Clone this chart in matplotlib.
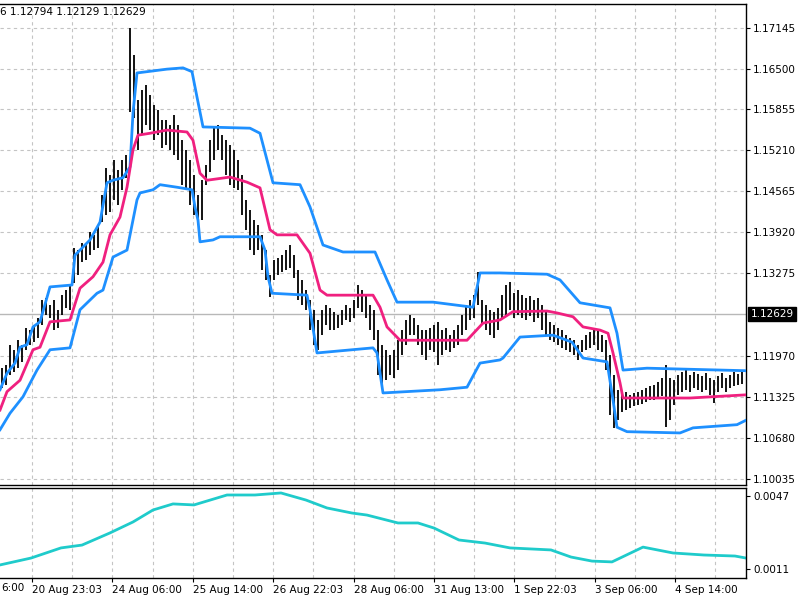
import matplotlib
matplotlib.use("Agg")
import matplotlib.pyplot as plt
from matplotlib.transforms import blended_transform_factory

# bar highs and lows, oldest first
highs = [
    1.1178, 1.1183, 1.1215, 1.1207, 1.1222, 1.1215, 1.1241, 1.1238, 1.1246, 1.1257,
    1.1285, 1.1289, 1.1278, 1.1285, 1.1270, 1.1293, 1.1301, 1.1309, 1.1367, 1.1364,
    1.1375, 1.1372, 1.1393, 1.1388, 1.1404, 1.1451, 1.1493, 1.1482, 1.1506, 1.1490,
    1.1506, 1.1514, 1.1714, 1.1671, 1.1600, 1.1616, 1.1624, 1.1608, 1.1593, 1.1585,
    1.1569, 1.1569, 1.1561, 1.1577, 1.1561, 1.1537, 1.1522, 1.1506, 1.1482, 1.1451,
    1.1474, 1.1498, 1.1537, 1.1556, 1.1561, 1.1545, 1.1537, 1.1530, 1.1522, 1.1506,
    1.1482, 1.1443, 1.1427, 1.1411, 1.1404, 1.1388, 1.1364, 1.1325, 1.1348, 1.1352,
    1.1356, 1.1364, 1.1372, 1.1356, 1.1333, 1.1317, 1.1301, 1.1285, 1.1270, 1.1254,
    1.1270, 1.1278, 1.1273, 1.1267, 1.1262, 1.1270, 1.1278, 1.1273, 1.1285, 1.1309,
    1.1301, 1.1293, 1.1278, 1.1270, 1.1238, 1.1215, 1.1207, 1.1199, 1.1207, 1.1222,
    1.1238, 1.1254, 1.1262, 1.1257, 1.1246, 1.1238, 1.1238, 1.1241, 1.1246, 1.1251,
    1.1238, 1.1241, 1.1230, 1.1238, 1.1246, 1.1262, 1.1278, 1.1285, 1.1293, 1.1330,
    1.1285, 1.1278, 1.1270, 1.1267, 1.1273, 1.1293, 1.1309, 1.1314, 1.1296, 1.1301,
    1.1293, 1.1289, 1.1292, 1.1285, 1.1289, 1.1278, 1.1270, 1.1251, 1.1246, 1.1241,
    1.1238, 1.1230, 1.1226, 1.1222, 1.1215, 1.1222, 1.1230, 1.1235, 1.1238, 1.1238,
    1.1230, 1.1222, 1.1199, 1.1167, 1.1144, 1.1136, 1.1141, 1.1136, 1.1139, 1.1141,
    1.1144, 1.1147, 1.1150, 1.1152, 1.1156, 1.1163, 1.1183, 1.1163, 1.1159, 1.1167,
    1.1172, 1.1175, 1.1167, 1.1172, 1.1169, 1.1166, 1.1170, 1.1163, 1.1159, 1.1166,
    1.1170, 1.1163, 1.1167, 1.1172, 1.1169, 1.1172,
]
lows = [
    1.1147, 1.1152, 1.1167, 1.1172, 1.1178, 1.1188, 1.1207, 1.1215, 1.1219, 1.1226,
    1.1246, 1.1262, 1.1257, 1.1238, 1.1241, 1.1262, 1.1273, 1.1270, 1.1312, 1.1325,
    1.1345, 1.1348, 1.1356, 1.1364, 1.1367, 1.1408, 1.1419, 1.1424, 1.1443, 1.1435,
    1.1459, 1.1478, 1.1582, 1.1572, 1.1522, 1.1545, 1.1561, 1.1553, 1.1537, 1.1545,
    1.1525, 1.1530, 1.1522, 1.1514, 1.1506, 1.1467, 1.1459, 1.1435, 1.1419, 1.1404,
    1.1411, 1.1467, 1.1487, 1.1506, 1.1522, 1.1506, 1.1482, 1.1467, 1.1462, 1.1459,
    1.1419, 1.1396, 1.1364, 1.1356, 1.1364, 1.1333, 1.1317, 1.1290, 1.1317, 1.1325,
    1.1330, 1.1333, 1.1336, 1.1320, 1.1285, 1.1278, 1.1270, 1.1238, 1.1215, 1.1207,
    1.1230, 1.1246, 1.1238, 1.1238, 1.1241, 1.1246, 1.1254, 1.1251, 1.1257, 1.1273,
    1.1267, 1.1257, 1.1238, 1.1222, 1.1167, 1.1152, 1.1159, 1.1167, 1.1163, 1.1175,
    1.1199, 1.1215, 1.1230, 1.1230, 1.1215, 1.1199, 1.1191, 1.1207, 1.1204, 1.1183,
    1.1199, 1.1207, 1.1204, 1.1210, 1.1215, 1.1230, 1.1238, 1.1254, 1.1257, 1.1278,
    1.1246, 1.1238, 1.1230, 1.1226, 1.1238, 1.1257, 1.1262, 1.1270, 1.1257, 1.1262,
    1.1257, 1.1254, 1.1260, 1.1251, 1.1257, 1.1238, 1.1230, 1.1222, 1.1219, 1.1215,
    1.1210, 1.1207, 1.1204, 1.1199, 1.1191, 1.1204, 1.1207, 1.1210, 1.1215, 1.1207,
    1.1204, 1.1175, 1.1104, 1.1084, 1.1096, 1.1109, 1.1112, 1.1115, 1.1118, 1.1120,
    1.1122, 1.1125, 1.1128, 1.1128, 1.1131, 1.1134, 1.1085, 1.1096, 1.1120, 1.1136,
    1.1141, 1.1144, 1.1141, 1.1147, 1.1144, 1.1141, 1.1144, 1.1136, 1.1123, 1.1141,
    1.1147, 1.1141, 1.1147, 1.1150, 1.1152, 1.1153,
]

# channel lines, sampled at bar positions
upper_x = [-0.5, 1.25, 3.25, 4.5, 6.25, 7.75, 9.5, 12, 17.5, 18.25, 19.5, 22, 24.5,
           26.25, 27.75, 30.25, 32, 32.75, 33.75, 41.25, 45.25, 47.5, 48.75, 50.25,
           62, 64.5, 67.75, 74.5, 77, 80.25, 85.25, 93.25, 96.25, 98.75, 107.75,
           117.75, 119.5, 124.5, 136.25, 139.5, 144.5, 152, 153.75, 155.25, 161.25, 186]
upper_y = [1.1144, 1.1170, 1.1186, 1.1211, 1.1215, 1.1243, 1.1251, 1.1306, 1.1309,
           1.1356, 1.1364, 1.1380, 1.1408, 1.1470, 1.1474, 1.1478, 1.1495, 1.1580,
           1.1643, 1.1649, 1.1651, 1.1645, 1.1605, 1.1558, 1.1556, 1.1548, 1.1470,
           1.1467, 1.1432, 1.1372, 1.1361, 1.1361, 1.1317, 1.1282, 1.1282, 1.1274,
           1.1328, 1.1328, 1.1326, 1.1317, 1.1281, 1.1273, 1.1233, 1.1175, 1.1178, 1.1174]

mid_x = [-0.5, 1.25, 4.5, 7.75, 9.5, 12, 17, 19.5, 22.75, 25.25, 27, 29.5, 31.25,
         32.75, 34, 37, 41.25, 46.25, 47.75, 49.5, 51.25, 57, 61.25, 64.5, 67,
         68.75, 73.75, 77, 79.5, 81.25, 92.75, 94.5, 96.25, 99.5, 116.25, 120.25,
         124.5, 127.75, 136.25, 138.75, 142.75, 145.25, 149.5, 151.5, 152.75,
         154.5, 155.25, 172, 186]
mid_y = [1.1112, 1.1141, 1.1159, 1.1207, 1.1211, 1.1251, 1.1254, 1.1304, 1.1322,
         1.1345, 1.1388, 1.1416, 1.1463, 1.1522, 1.1545, 1.1548, 1.1553, 1.1550,
         1.1537, 1.1485, 1.1474, 1.1479, 1.1471, 1.1462, 1.1396, 1.1388, 1.1388,
         1.1359, 1.1301, 1.1293, 1.1293, 1.1274, 1.1243, 1.1222, 1.1222, 1.1249,
         1.1254, 1.1267, 1.1268, 1.1265, 1.1259, 1.1243, 1.1238, 1.1233, 1.1202,
         1.1155, 1.1131, 1.1131, 1.1136]

lower_x = [-0.5, 2, 5.25, 8.75, 12, 17, 19.5, 23.75, 25.25, 27.75, 31.25, 33.75,
           34.5, 37.75, 39.5, 43.75, 47.5, 48.25, 49, 49.5, 52.75, 54.5, 64.5,
           65.75, 66.5, 67.5, 76.25, 77, 78.75, 92.75, 93.75, 95.25, 109.5, 116.25,
           119.5, 124.5, 125.25, 129.5, 137.75, 142.5, 145.25, 151.25, 152.75,
           153.75, 156.25, 169.5, 172.75, 183.75, 186]
lower_y = [1.1081, 1.1107, 1.1133, 1.1175, 1.1207, 1.1210, 1.1270, 1.1296, 1.1301,
           1.1353, 1.1364, 1.1443, 1.1454, 1.1459, 1.1467, 1.1463, 1.1459, 1.1432,
           1.1411, 1.1377, 1.1380, 1.1385, 1.1385, 1.1364, 1.1322, 1.1296, 1.1293,
           1.1270, 1.1202, 1.1210, 1.1202, 1.1139, 1.1144, 1.1148, 1.1186, 1.1191,
           1.1194, 1.1227, 1.1230, 1.1219, 1.1194, 1.1188, 1.1128, 1.1085, 1.1078,
           1.1076, 1.1084, 1.1089, 1.1096]

# sub window indicator
ind_x = [-0.5, 7.25, 14.75, 20, 27, 32.75, 37.75, 42.75, 48, 56.25, 63.25, 69.75,
         76, 81.25, 87.5, 91.25, 99, 104, 108, 114.25, 120.75, 127, 137.25,
         142.25, 147.5, 152.5, 160.25, 167.75, 175.5, 183.25, 186]
ind_y = [0.00130, 0.00164, 0.00214, 0.00228, 0.00288, 0.00342, 0.00401, 0.00431,
         0.00426, 0.00475, 0.00475, 0.00485, 0.00450, 0.00411, 0.00386, 0.00376,
         0.00337, 0.00337, 0.00312, 0.00253, 0.00238, 0.00214, 0.00204, 0.00169,
         0.00149, 0.00145, 0.00218, 0.00189, 0.00179, 0.00174, 0.00164]

price_ticks = [1.17145, 1.16500, 1.15855, 1.15210, 1.14565, 1.13920, 1.13275,
               1.11970, 1.11325, 1.10680, 1.10035]
last_price = 1.12629
ind_ticks = [0.0047, 0.0011]

time_labels = ["20 Aug 23:03", "24 Aug 06:00", "25 Aug 14:00", "26 Aug 22:03",
               "28 Aug 06:00", "31 Aug 13:00", "1 Sep 22:03", "3 Sep 06:00",
               "4 Sep 14:00"]
label_bars = [7.5, 27.6, 47.7, 67.8, 87.9, 108.0, 128.1, 148.2, 168.3]
grid_bars = [7.5, 17.55, 27.6, 37.65, 47.7, 57.75, 67.8, 77.85, 87.9, 97.95, 108.0,
             118.05, 128.1, 138.15, 148.2, 158.25, 168.3, 178.35]

FS = 7.5
grid_kw = dict(color="#c4c4c4", lw=0.8, ls=(0, (3, 3)), zorder=0)

fig = plt.figure(figsize=(8, 6), dpi=100)
ax = fig.add_axes([0, 115 / 600, 746 / 800, 481 / 600])
sub = fig.add_axes([0, 22 / 600, 746 / 800, 90 / 600])

# price window
for x in grid_bars:
    ax.axvline(x, **grid_kw)
for p in price_ticks:
    ax.axhline(p, **grid_kw)
ax.axhline(last_price, color="#b8b8b8", lw=1, zorder=1)

xs = list(range(len(highs)))
ax.vlines(xs, lows, highs, color="black", lw=1.3, zorder=2)
ax.plot(upper_x, upper_y, color="#1e90ff", lw=2, zorder=3)
ax.plot(lower_x, lower_y, color="#1e90ff", lw=2, zorder=3)
ax.plot(mid_x, mid_y, color="#f0207f", lw=2, zorder=3)

ax.set_xlim(-0.5, 186)
ax.set_ylim(1.09940, 1.17516)
ax.set_xticks([])
ax.yaxis.tick_right()
ax.set_yticks(price_ticks)
ax.set_yticklabels([f"{p:.5f}" for p in price_ticks])
ax.tick_params(axis="y", length=3, pad=2, labelsize=FS, direction="out")

trans = blended_transform_factory(ax.transAxes, ax.transData)
ax.text(1.006, last_price, f"{last_price:.5f}", transform=trans, ha="left",
        va="center", color="white", fontsize=FS,
        bbox=dict(boxstyle="square,pad=0.2", fc="black", ec="black"))

# indicator window
for x in grid_bars:
    sub.axvline(x, **grid_kw)
sub.plot(ind_x, ind_y, color="#1fcbcb", lw=2)
sub.set_xlim(-0.5, 186)
sub.set_ylim(0.000656, 0.005095)
sub.yaxis.tick_right()
sub.set_yticks(ind_ticks)
sub.set_yticklabels([f"{v:.4f}" for v in ind_ticks])
sub.tick_params(axis="y", length=3, pad=2, labelsize=FS)
sub.set_xticks(label_bars)
sub.set_xticklabels(time_labels, ha="left")
sub.tick_params(axis="x", length=3, pad=2, labelsize=FS)

for a in (ax, sub):
    a.spines["left"].set_visible(False)
    for s in ("top", "right", "bottom"):
        a.spines[s].set_color("black")
        a.spines[s].set_linewidth(1)

fig.text(0.0, 1 - 12 / 600, "6 1.12794 1.12129 1.12629", fontsize=FS,
         ha="left", va="center")
fig.text(1 / 800, 1 - 588 / 600, "6:00", fontsize=FS, ha="left", va="center")

fig.savefig("out.png", dpi=100)
